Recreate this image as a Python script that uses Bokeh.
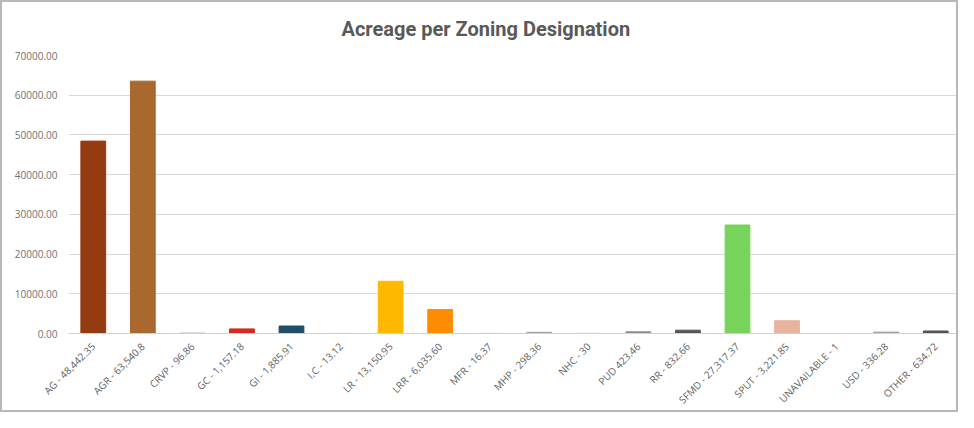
from math import pi
from bokeh.plotting import figure
from bokeh.models import ColumnDataSource, NumeralTickFormatter, FixedTicker
from bokeh.embed import file_html
from bokeh.resources import INLINE

title_text = "Acreage per Zoning Designation"
labels = ["AG - 48,442.35", "AGR - 63,540.8", "CRVP - 96.86", "GC - 1,157.18",
          "GI - 1,885.91", "I.C - 13.12", "LR - 13,150.95", "LRR - 6,035.60",
          "MFR - 16.37", "MHP - 298.36", "NHC - 30", "PUD 423.46", "RR - 832.66",
          "SFMD - 27,317.37", "SPUT - 3,221.85", "UNAVAILABLE - 1", "USD - 336.28",
          "OTHER - 634.72"]
acres = [48442.35, 63540.8, 96.86, 1157.18, 1885.91, 13.12, 13150.95, 6035.60,
         16.37, 298.36, 30, 423.46, 832.66, 27317.37, 3221.85, 1, 336.28, 634.72]
colors = ["#943B12", "#A8682E", "#A8A8A8", "#D42A20", "#1F4E6B", "#A0A0A0",
          "#FFB800", "#FF8C00", "#B0B0B0", "#A0A0A0", "#B0B0B0", "#8C8C8C",
          "#555555", "#77D35B", "#E8B4A0", "#C8C8C8", "#999999", "#555555"]
y_ticks = [0, 10000, 20000, 30000, 40000, 50000, 60000, 70000]

src = ColumnDataSource(dict(x=labels, y=acres, c=colors))

p = figure(x_range=labels, y_range=(0, 70000), width=958, height=412,
           output_backend="svg", toolbar_location=None,
           min_border_left=66, min_border_right=0, min_border_top=53,
           min_border_bottom=79, title=title_text)
p.styles = {"border": "2px solid #b8b8b8", "box-sizing": "border-box"}

p.vbar(x="x", top="y", width=0.5, fill_color="c", line_color="c", source=src)

p.title.text_font = "Roboto"
p.title.text_font_style = "bold"
p.title.text_font_size = "20px"
p.title.text_color = "#595959"
p.title.align = "left"
p.title.offset = 273
p.title.standoff = 26
p.title.vertical_align = "top"

p.outline_line_color = None
p.xgrid.grid_line_color = None
p.ygrid.grid_line_color = "#d9d9d9"
p.yaxis.ticker = FixedTicker(ticks=y_ticks)
p.yaxis.formatter = NumeralTickFormatter(format="0.00")
p.yaxis.axis_line_color = None
p.yaxis.major_tick_line_color = None
p.yaxis.minor_tick_line_color = None
p.yaxis.major_label_text_font_size = "10px"
p.yaxis.major_label_text_color = "#707070"
p.yaxis.major_label_text_font = "Open Sans"

p.xaxis.axis_line_color = "#d0d0d0"
p.xaxis.major_tick_line_color = None
p.xaxis.major_label_orientation = pi / 4
p.xaxis.major_label_text_font_size = "10px"
p.xaxis.major_label_text_color = "#606060"
p.xaxis.major_label_text_font = "Open Sans"

open("out.html", "w").write(file_html(p, INLINE))
